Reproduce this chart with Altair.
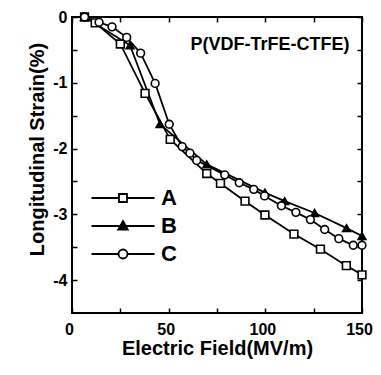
import altair as alt
import pandas as pd

# ---- data ----
a_x = [6.5, 12, 25, 37.8, 50.8, 69.7, 76.8, 89.5, 99.8, 114.8, 128.5, 141.9, 150]
a_y = [0, -0.09, -0.41, -1.16, -1.86, -2.38, -2.53, -2.80, -3.01, -3.30, -3.53, -3.78, -3.92]

b_x = [6.5, 30, 45.5, 69.7, 99.8, 110, 125.5, 142, 150]
b_y = [0, -0.43, -1.63, -2.24, -2.67, -2.80, -2.98, -3.21, -3.33]

c_x = [6.5, 14, 20.7, 28.3, 35.5, 43, 50.3, 57, 61, 64.5, 79, 86.5, 94, 99.6,
       108.3, 115.8, 123.3, 130.7, 138, 145.5, 150]
c_y = [0, -0.08, -0.15, -0.31, -0.55, -1.01, -1.63, -1.97, -2.07, -2.18, -2.40,
       -2.52, -2.62, -2.72, -2.87, -2.97, -3.08, -3.23, -3.37, -3.47, -3.47]

series = ["A", "B", "C"]
x_ticks = [0, 25, 50, 75, 100, 125, 150]
y_ticks = [0, -0.5, -1, -1.5, -2, -2.5, -3, -3.5, -4]
annotation = "P(VDF-TrFE-CTFE)"

rows = []
for name, xs, ys in zip(series, [a_x, b_x, c_x], [a_y, b_y, c_y]):
    for i, (xv, yv) in enumerate(zip(xs, ys)):
        rows.append({"series": name, "x": xv, "y": yv, "order": i})
df = pd.DataFrame(rows)

FONT = "Liberation Sans"
TS = 5

xscale = alt.Scale(domain=[0, 150], nice=False, zero=False)
yscale = alt.Scale(domain=[-4.5, 0], nice=False, zero=False)

# labelled axes (no ticks)
bottom_lab = alt.Axis(
    values=x_ticks, orient="bottom", grid=False, domain=False, ticks=False,
    labelExpr="datum.value % 50 === 0 ? '' + datum.value : ''",
    labelFont=FONT, labelFontSize=16, labelFontWeight="bold", labelColor="black",
    labelPadding=8, labelFlush=False, labelOffset=-3,
    title="Electric Field(MV/m)", titleFont=FONT, titleFontSize=20,
    titleFontWeight="bold", titleColor="black", titleY=35, titleBaseline="middle",
)
left_lab = alt.Axis(
    values=y_ticks, orient="left", grid=False, domain=False, ticks=False,
    labelExpr="datum.value % 1 === 0 ? '' + datum.value : ''",
    labelFont=FONT, labelFontSize=16, labelFontWeight="bold", labelColor="black",
    labelPadding=5, labelFlush=False,
    title="Longitudinal Strain(%)", titleFont=FONT, titleFontSize=20,
    titleFontWeight="bold", titleColor="black", titleX=-35, titleY=132,
    titleAngle=270, titleAlign="center", titleBaseline="middle",
)


def tick_axis(orient):
    # tick-only axis, shifted inward so its ticks point into the plot
    return alt.Axis(values=x_ticks if orient in ("top", "bottom") else y_ticks,
                    orient=orient, grid=False, domain=False, labels=False, title=None,
                    tickSize=TS, tickColor="black", tickWidth=1.5, offset=-TS)


sq = "M-6.3,0H-0.8M0.8,0H6.3M-0.8,-0.8H0.8V0.8H-0.8Z"
tri = "M-6.3,0H6.3M0,-1L0.95,0.7L-0.95,0.7Z"
cir = "M-6.3,0H-0.9M0.9,0H6.3M0.9,0A0.9,0.9 0 1,1 -0.9,0A0.9,0.9 0 1,1 0.9,0Z"

legend = alt.Legend(
    orient="none", legendX=40, legendY=170, title=None, padding=0,
    symbolSize=100, symbolStrokeColor="black", symbolStrokeWidth=1.8, symbolOpacity=1,
    labelFont=FONT, labelFontSize=22, labelFontWeight="bold", labelColor="black",
    labelOffset=27, rowPadding=6,
)

lines = alt.Chart(df).mark_line(color="black", strokeWidth=1.8, clip=False).encode(
    x=alt.X("x:Q", scale=xscale, axis=tick_axis("bottom")),
    y=alt.Y("y:Q", scale=yscale, axis=tick_axis("left")),
    detail="series:N",
    order="order:Q",
)

points = alt.Chart(df).mark_point(
    filled=True, stroke="black", strokeWidth=1.6, size=60, opacity=1, clip=False
).encode(
    x=alt.X("x:Q", scale=xscale, axis=tick_axis("top")),
    y=alt.Y("y:Q", scale=yscale, axis=tick_axis("right")),
    shape=alt.Shape("series:N", scale=alt.Scale(domain=series, range=["square", "triangle-up", "circle"]), legend=None),
    fill=alt.Fill("series:N", scale=alt.Scale(domain=series, range=["white", "black", "white"]), legend=None),
)

legend_layer = alt.Chart(df).transform_filter("false").mark_point(
    filled=True, strokeWidth=1.8, size=100, opacity=1
).encode(
    x=alt.X("x:Q", scale=xscale, axis=None),
    y=alt.Y("y:Q", scale=yscale, axis=None),
    shape=alt.Shape("series:N", scale=alt.Scale(domain=series, range=[sq, tri, cir]), legend=legend),
    fill=alt.Fill("series:N", scale=alt.Scale(domain=series, range=["white", "black", "white"]), legend=legend),
    stroke=alt.Stroke("series:N", scale=alt.Scale(domain=series, range=["black", "black", "black"]), legend=legend),
)

axes_layer = alt.Chart(df).mark_point(opacity=0).encode(
    x=alt.X("x:Q", scale=xscale, axis=bottom_lab),
    y=alt.Y("y:Q", scale=yscale, axis=left_lab),
)

label = alt.Chart(pd.DataFrame({"t": [annotation]})).mark_text(
    font=FONT, fontSize=18, fontWeight="bold", color="black", align="center", baseline="middle"
).encode(text="t:N", x=alt.value(198), y=alt.value(28))

chart = alt.layer(axes_layer, lines, points, legend_layer, label).resolve_axis(
    x="independent", y="independent"
).resolve_scale(
    shape="independent", fill="independent", stroke="independent"
).properties(
    width=290, height=296,
    padding={"left": 64, "top": 9, "right": 11, "bottom": 54},
    autosize=alt.AutoSizeParams(type="none"),
    background="white",
).configure_view(stroke="black", strokeWidth=2)

chart.save("out.html", embed_options={"renderer": "svg", "actions": False})
